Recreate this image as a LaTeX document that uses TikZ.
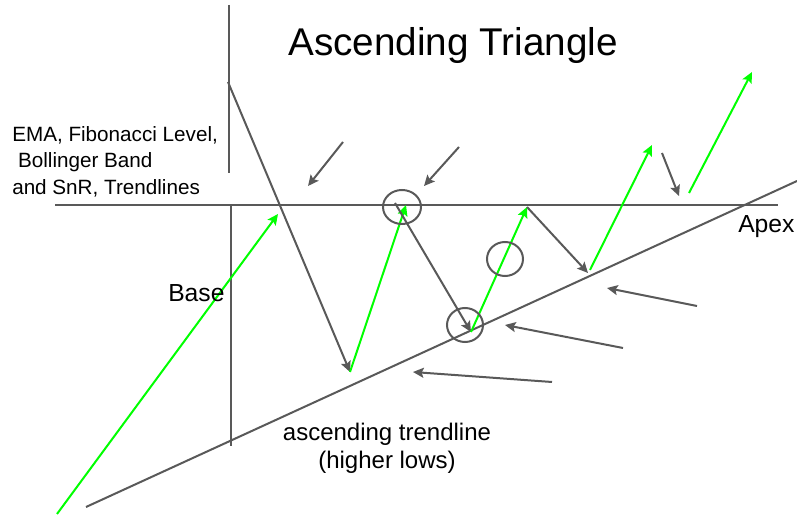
\documentclass[tikz,border=0pt]{standalone}
\usepackage{fontspec}
\setmainfont{Liberation Sans}
\usetikzlibrary{arrows.meta}
\definecolor{linegray}{HTML}{595959}
\definecolor{pricegreen}{HTML}{00FF00}
\tikzset{
  ln/.style={draw=linegray,line width=1.5pt},
  dn/.style={ln,-{Stealth[length=8pt,width=7.5pt,inset=1.5pt]}},
  up/.style={draw=pricegreen,line width=1.5pt,-{Stealth[length=8pt,width=7.5pt,inset=1.5pt]}},
  ring/.style={draw=linegray,line width=1.5pt},
}
\begin{document}
\begin{tikzpicture}[x=0.75pt,y=-0.75pt]
  \useasboundingbox (0,0) rectangle (797,516);
  % frame lines
  \coordinate (rl) at (55,205);  \coordinate (rr) at (778,205);
  \coordinate (tl) at (86,507);  \coordinate (tr) at (797,181);
  \coordinate (va) at (229,5);   \coordinate (vb) at (229,173);
  \coordinate (ba) at (231,205); \coordinate (bb) at (231,446);
  \draw[ln] (rl)--(rr);
  \draw[ln] (tl)--(tr);
  \draw[ln] (va)--(vb);
  \draw[ln] (ba)--(bb);
  % price path
  \coordinate (s0) at (57,514);  \coordinate (h0) at (278,214);
  \coordinate (p0) at (228,82);  \coordinate (l1) at (350,372);
  \coordinate (h1) at (406,205); \coordinate (h1s) at (395,203);
  \coordinate (l2) at (471,332); \coordinate (h2) at (527,207);
  \coordinate (l3) at (588,273); \coordinate (l3s) at (590,270);
  \coordinate (h3) at (652,145);
  \coordinate (d4) at (662,153); \coordinate (l4) at (679,196);
  \coordinate (b0) at (689,193); \coordinate (b1) at (752,72);
  \draw[up] (s0)--(h0);
  \draw[dn] (p0)--(l1);
  \draw[up] (l1)--(h1);
  \draw[dn] (h1s)--(l2);
  \draw[up] (l2)--(h2);
  \draw[dn] (h2)--(l3);
  \draw[up] (l3s)--(h3);
  \draw[dn] (d4)--(l4);
  \draw[up] (b0)--(b1);
  % pointers
  \foreach \i/\xa/\ya/\xb/\yb in {1/343/142/308/186,2/459/147/424/186,3/697/306/607/288,4/623/348/505/325,5/552/382/413/372}{
    \coordinate (pa\i) at (\xa,\ya); \coordinate (pb\i) at (\xb,\yb);
    \draw[dn] (pa\i)--(pb\i);
  }
  \draw[ring] (402,207) ellipse [x radius=19,y radius=17];
  \draw[ring] (505,259) ellipse [x radius=18,y radius=17];
  \draw[ring] (465,325) ellipse [x radius=18,y radius=17];
  % labels
  \node[anchor=base west,inner sep=0,font=\fontsize{29}{32}\selectfont] (title) at (288,56) {Ascending Triangle};
  \node[anchor=north west,inner sep=0,align=left,font=\fontsize{15.5}{20}\selectfont] (ind) at (12,126)
    {EMA, Fibonacci Level,\\\hspace{0.28em}Bollinger Band\\and SnR, Trendlines};
  \node[anchor=base west,inner sep=0,font=\fontsize{18.5}{22}\selectfont] (base) at (168,302) {Base};
  \node[anchor=base west,inner sep=0,font=\fontsize{18.5}{22}\selectfont] (apex) at (738,233) {Apex};
  \node[anchor=north,inner sep=0,align=center,font=\fontsize{18}{21}\selectfont] (trend) at (387,423)
    {ascending trendline\\(higher lows)};
\end{tikzpicture}
\end{document}
